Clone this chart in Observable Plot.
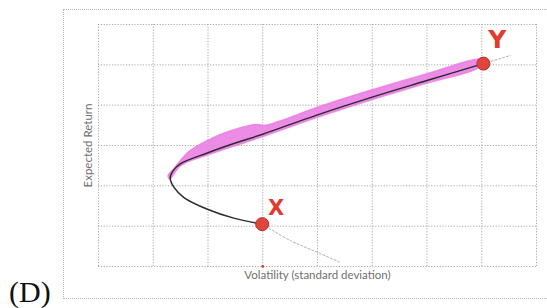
<!DOCTYPE html>
<html><head><meta charset="utf-8">
<script src="https://cdn.jsdelivr.net/npm/d3@7"></script>
<script src="https://cdn.jsdelivr.net/npm/@observablehq/plot@0.6"></script>
<style>
html,body{margin:0;padding:0;background:#fff;}
#wrap{position:relative;width:547px;height:308px;overflow:hidden;}
#frame{position:absolute;left:63px;top:9px;width:490px;height:290px;border:1px dotted #b8b8b8;box-sizing:border-box;}
#chart{position:absolute;left:0;top:0;}
#tag{position:absolute;left:9px;top:277px;font-family:"Liberation Serif","DejaVu Serif",serif;font-size:30px;line-height:30px;color:#111;}
</style></head><body>
<div id="wrap"><div id="frame"></div><div id="chart"></div><div id="tag">(D)</div></div>
<script>
// Grid (axis units, no tick labels shown)
const xGridValues = [0, 1, 2, 3, 4, 5, 6, 7, 8];
const yGridValues = [0, 1, 2, 3, 4, 5, 6];

// Frontier curve (volatility, expected return), from X around the vertex to Y
const frontierVol = [2.99, 2.47, 1.99, 1.56, 1.38, 1.31, 1.36, 1.50, 2.00, 2.50, 3.00, 4.00, 5.00, 6.00, 7.03];
const frontierRet = [1.05, 1.20, 1.42, 1.71, 1.96, 2.19, 2.37, 2.55, 2.82, 3.06, 3.28, 3.76, 4.20, 4.61, 5.03];

// Faint continuation of the curve past X and past Y
const lowerExtVol = [2.99, 3.51, 4.00, 4.42];
const lowerExtRet = [1.05, 0.64, 0.35, 0.10];
const upperExtVol = [7.03, 7.52];
const upperExtRet = [5.03, 5.23];

// Hand-drawn pink highlight outline (lower edge to Y, then upper edge back)
const bandVol = [1.30, 1.50, 2.00, 3.00, 4.00, 5.00, 6.00, 6.95, 7.00, 6.00, 5.00, 4.00, 3.30, 3.05, 2.90, 2.70, 2.36, 2.04, 1.65, 1.38, 1.27];
const bandRet = [2.17, 2.50, 2.77, 3.22, 3.70, 4.14, 4.55, 4.94, 5.13, 4.78, 4.38, 3.95, 3.60, 3.50, 3.52, 3.48, 3.34, 3.16, 2.85, 2.43, 2.25];

// Marked portfolios
const pointName = ["X", "Y"];
const pointVol = [2.99, 7.03];
const pointRet = [1.05, 5.03];

// Small red mark on the volatility axis
const axisMarkVol = [3];

const xTitle = "Volatility (standard deviation)";
const yTitle = "Expected Return";

const toPts = (xs, ys) => xs.map((x, i) => ({x, y: ys[i]}));
const frontier = toPts(frontierVol, frontierRet);
const lowerExt = toPts(lowerExtVol, lowerExtRet);
const upperExt = toPts(upperExtVol, upperExtRet);
const band = toPts(bandVol, bandRet);
const points = pointName.map((n, i) => ({name: n, x: pointVol[i], y: pointRet[i]}));
const axisMarks = axisMarkVol.map(x => ({x, y: 0}));

const chart = Plot.plot({
  width: 547,
  height: 308,
  marginLeft: 98,
  marginRight: 11,
  marginTop: 24,
  marginBottom: 42,
  style: {background: "transparent", fontFamily: "Lato, 'Open Sans', sans-serif"},
  x: {domain: [0, 8], axis: null},
  y: {domain: [0, 6], axis: null},
  marks: [
    Plot.gridX(xGridValues, {stroke: "#9a9a9a", strokeOpacity: 0.85, strokeWidth: 1, strokeDasharray: "1.2,1.6"}),
    Plot.gridY(yGridValues, {stroke: "#9a9a9a", strokeOpacity: 0.85, strokeWidth: 1, strokeDasharray: "1.2,1.6"}),
    Plot.line(lowerExt, {x: "x", y: "y", stroke: "#b0b0b0", strokeWidth: 1, strokeDasharray: "2,2", curve: "catmull-rom"}),
    Plot.line(upperExt, {x: "x", y: "y", stroke: "#b0b0b0", strokeWidth: 1, strokeDasharray: "2,2"}),
    Plot.line(band, {x: "x", y: "y", fill: "#ea82e4", fillOpacity: 0.92, stroke: "#e77de1", strokeWidth: 1.5, strokeOpacity: 0.8, curve: "catmull-rom-closed"}),
    Plot.line(frontier, {x: "x", y: "y", stroke: "#2b2b2b", strokeWidth: 1.5, curve: "catmull-rom"}),
    Plot.dot(axisMarks, {x: "x", y: "y", r: 1.4, fill: "#d63a30"}),
    Plot.dot(points, {x: "x", y: "y", r: 6.5, fill: "#e0453d", stroke: "#b3302a", strokeWidth: 1}),
    Plot.text(points.filter(d => d.name === "X"), {x: "x", y: "y", text: "name", dx: 14, dy: -16, fill: "#e33a30", fontSize: 21, fontWeight: "bold", fontFamily: "DejaVu Sans, sans-serif"}),
    Plot.text(points.filter(d => d.name === "Y"), {x: "x", y: "y", text: "name", dx: 14, dy: -24, fill: "#e33a30", fontSize: 25, fontWeight: "bold", fontFamily: "DejaVu Sans, sans-serif"}),
    Plot.text([xTitle], {frameAnchor: "bottom", dy: 12, fontSize: 11.5, fill: "#6f6f6f"}),
    Plot.text([yTitle], {frameAnchor: "left", dx: -10, rotate: -90, textAnchor: "middle", fontSize: 11.5, fill: "#6f6f6f"})
  ]
});
document.getElementById("chart").appendChild(chart);
</script>
</body></html>
